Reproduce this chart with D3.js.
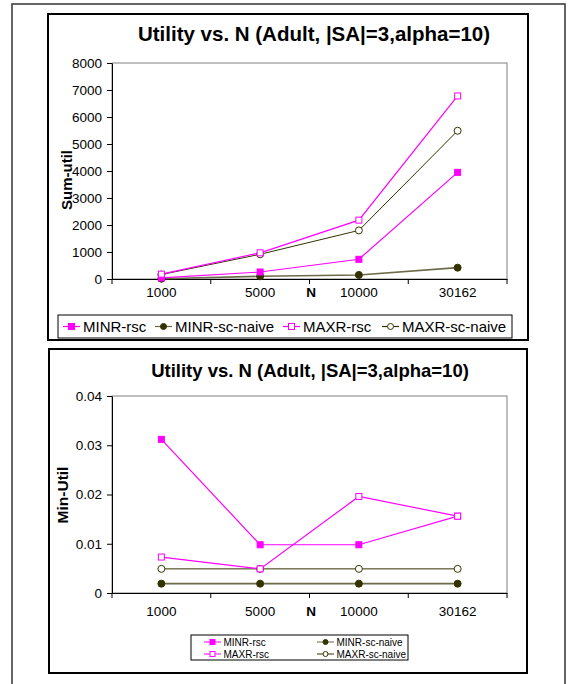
<!DOCTYPE html>
<html><head><meta charset="utf-8">
<script src="https://cdn.jsdelivr.net/npm/d3@7"></script>
<style>body{margin:0;background:#fff}svg{display:block}text{font-family:"Liberation Sans",Arial,sans-serif}</style>
</head><body>
<svg id="c" width="572" height="684"></svg>
<script>
const categories = ["1000","5000","10000","30162"];
const seriesNames = ["MINR-rsc","MINR-sc-naive","MAXR-rsc","MAXR-sc-naive"];
// top chart: Sum-util
const sumMINRrsc = [40, 260, 730, 3950];
const sumMINRnaive = [10, 100, 150, 420];
const sumMAXRrsc = [180, 970, 2180, 6780];
const sumMAXRnaive = [165, 915, 1800, 5490];
const sumTicks = [0,1000,2000,3000,4000,5000,6000,7000,8000];
// bottom chart: Min-Util
const minMINRrsc = [0.0312, 0.0098, 0.0098, 0.0156];
const minMINRnaive = [0.0019, 0.0019, 0.0019, 0.0019];
const minMAXRrsc = [0.0073, 0.0049, 0.0196, 0.0156];
const minMAXRnaive = [0.0049, 0.0049, 0.0049, 0.0049];
const minTicks = [0,0.01,0.02,0.03,0.04];
const title = "Utility vs. N (Adult, |SA|=3,alpha=10)";

const svg = d3.select("#c");
const MAG = "#ff00ff", OLV = "#333300";
const styles = [
  {name:seriesNames[0], stroke:MAG, sw:1.2, marker:"sq", fill:MAG, mstroke:MAG},
  {name:seriesNames[1], stroke:"#6b6b4a", sw:1.6, marker:"ci", fill:OLV, mstroke:OLV},
  {name:seriesNames[2], stroke:MAG, sw:1.2, marker:"sq", fill:"#fff", mstroke:MAG},
  {name:seriesNames[3], stroke:OLV, sw:1, marker:"ci", fill:"#fff", mstroke:OLV}
];

svg.append("rect").attr("x",12).attr("y",4).attr("width",553).attr("height",700)
  .attr("fill","none").attr("stroke","#333").attr("stroke-width",1.5);

function marker(g, st, x, y, s) {
  if (st.marker==="sq") {
    g.append("rect").attr("x",x-s/2).attr("y",y-s/2).attr("width",s).attr("height",s)
      .attr("fill",st.fill).attr("stroke",st.mstroke).attr("stroke-width",1);
  } else {
    g.append("circle").attr("cx",x).attr("cy",y).attr("r",s/2)
      .attr("fill",st.fill).attr("stroke",st.mstroke).attr("stroke-width",1);
  }
}

function chart(cfg) {
  const g = svg.append("g");
  g.append("rect").attr("x",cfg.box[0]).attr("y",cfg.box[1]).attr("width",cfg.box[2]).attr("height",cfg.box[3])
    .attr("fill","#fff").attr("stroke","#000").attr("stroke-width",2);
  const x = d3.scaleBand().domain(categories).range([112,507]);
  const y = d3.scaleLinear().domain([0, cfg.ticks[cfg.ticks.length-1]]).range([cfg.y0, cfg.y1]);
  g.append("rect").attr("x",112).attr("y",cfg.y1).attr("width",395).attr("height",cfg.y0-cfg.y1)
    .attr("fill","none").attr("stroke","#808080").attr("stroke-width",1);
  const ya = g.append("g").attr("transform","translate(112,0)")
    .call(d3.axisLeft(y).tickValues(cfg.ticks).tickSize(5).tickSizeOuter(0).tickFormat(cfg.fmt));
  ya.select(".domain").attr("stroke","#000");
  ya.selectAll("text").attr("font-size",cfg.tfs).attr("fill","#000").attr("font-family","Liberation Sans, Arial").attr("x",-10);
  const xa = g.append("g").attr("transform",`translate(0,${cfg.y0})`)
    .call(d3.axisBottom(x).tickSize(0).tickSizeOuter(0));
  xa.select(".domain").attr("stroke","#000");
  xa.selectAll("text").attr("font-size",cfg.tfs).attr("fill","#000").attr("font-family","Liberation Sans, Arial").attr("dy",null).attr("y",cfg.xly);
  const bounds = [0,1,2,3,4].map(i=>112+x.step()*i);
  g.selectAll(".xt").data(bounds).join("line").attr("x1",d=>d).attr("x2",d=>d)
    .attr("y1",cfg.y0).attr("y2",cfg.y0+5).attr("stroke","#000");
  g.append("text").attr("x",cfg.titleX).attr("y",cfg.titleY).attr("text-anchor","middle")
    .attr("font-size",cfg.titleFs).attr("font-weight","bold").text(title);
  g.append("text").attr("x",311).attr("y",cfg.y0+cfg.xly).attr("text-anchor","middle")
    .attr("font-size",cfg.tfs).attr("font-weight","bold").text("N");
  g.append("text").attr("transform",`translate(${cfg.ylx},${cfg.yly}) rotate(-90)`)
    .attr("text-anchor","middle").attr("font-size",cfg.ylfs).attr("font-weight","bold").text(cfg.ylabel);
  const order = [1,3,0,2];
  const line = d3.line().x((d,i)=>x(categories[i])+x.bandwidth()/2).y(d=>y(d));
  order.forEach(k=>{
    const st = styles[k];
    g.append("path").attr("d",line(cfg.data[k])).attr("fill","none")
      .attr("stroke",st.stroke).attr("stroke-width",st.sw);
  });
  order.forEach(k=>{
    const st = styles[k];
    cfg.data[k].forEach((v,i)=>marker(g, st, x(categories[i])+x.bandwidth()/2, y(v), st.marker==="sq"?6:7));
  });
  return g;
}

chart({box:[48,14,480,326], y0:279, y1:63, ticks:sumTicks, fmt:d3.format("d"),
  titleX:314, titleY:41, titleFs:20.5, tfs:13.5, xly:18,
  ylabel:"Sum-util", ylx:72, yly:180, ylfs:15, data:[sumMINRrsc,sumMINRnaive,sumMAXRrsc,sumMAXRnaive]});
chart({box:[49,349,478,324], y0:593, y1:396, ticks:minTicks, fmt:d=>d===0?"0":d3.format(".2f")(d),
  titleX:310, titleY:377, titleFs:18.5, tfs:13.5, xly:23,
  ylabel:"Min-Util", ylx:68, yly:495, ylfs:15.5, data:[minMINRrsc,minMINRnaive,minMAXRrsc,minMAXRnaive]});

{
  const lg = svg.append("g");
  lg.append("rect").attr("x",58).attr("y",315).attr("width",454).attr("height",23)
    .attr("fill","#fff").attr("stroke","#000").attr("stroke-width",1);
  const xs = [63, 155, 283, 382];
  styles.forEach((st,i)=>{
    const cx = xs[i];
    lg.append("line").attr("x1",cx).attr("x2",cx+17).attr("y1",326.5).attr("y2",326.5).attr("stroke",st.stroke).attr("stroke-width",1.2);
    marker(lg, st, cx+8.5, 326.5, 6);
    lg.append("text").attr("x",cx+20).attr("y",332).attr("font-size",15).text(st.name);
  });
}
{
  const lg = svg.append("g");
  lg.append("rect").attr("x",191).attr("y",635).attr("width",217).attr("height",25)
    .attr("fill","#fff").attr("stroke","#000").attr("stroke-width",1);
  const pos = [[204,642],[317,642],[204,654],[317,654]];
  styles.forEach((st,i)=>{
    const [cx,cy] = pos[i];
    lg.append("line").attr("x1",cx).attr("x2",cx+17).attr("y1",cy).attr("y2",cy).attr("stroke",st.stroke).attr("stroke-width",1);
    marker(lg, st, cx+8.5, cy, 5);
    lg.append("text").attr("x",cx+19.5).attr("y",cy+3.5).attr("font-size",10).text(st.name);
  });
}
</script>
</body></html>
